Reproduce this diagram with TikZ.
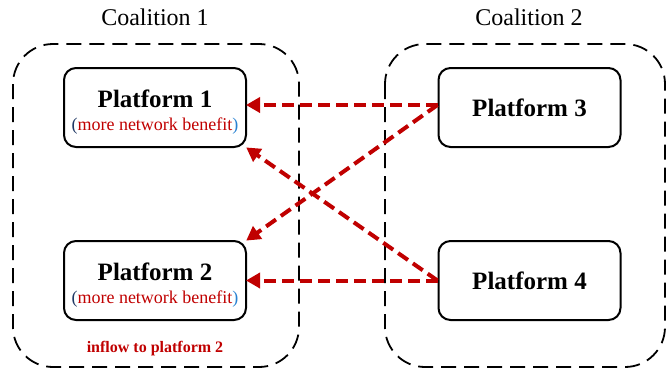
\documentclass[tikz,border=0pt]{standalone}
\usepackage{fontspec}
\setmainfont{Liberation Serif}
\usetikzlibrary{arrows.meta}
\definecolor{flowred}{RGB}{192,0,0}
\definecolor{parenblue}{RGB}{40,130,210}
\definecolor{parennavy}{RGB}{31,56,100}
\tikzset{
  coalition/.style={draw, line width=1.8pt, dash pattern=on 15pt off 8pt, rounded corners=40pt},
  plat/.style={draw, line width=2pt, rounded corners=12pt, minimum width=182pt, minimum height=79pt, inner sep=0pt,
    font=\fontsize{25}{28}\selectfont\bfseries},
  ptitle/.style={anchor=base, inner sep=0pt, font=\fontsize{25}{28}\selectfont\bfseries},
  psub/.style={anchor=base, inner sep=0pt, font=\fontsize{18}{20}\selectfont},
  ctitle/.style={anchor=base, inner sep=0pt, font=\fontsize{24}{26}\selectfont},
  flow/.style={draw=flowred, line width=4pt, dash pattern=on 12pt off 6pt,
    -{Triangle[length=14pt,width=15pt,fill=flowred]}, shorten >=-1pt},
}
\newcommand{\benefitnote}{{\color{parennavy}(}{\color{flowred}more network benefit}{\color{parenblue})}}
\begin{document}
\begin{tikzpicture}[x=1pt,y=-1pt]
  \useasboundingbox (0,0) rectangle (667,370);

  % coalition frames and their titles
  \draw[coalition] (13,44) rectangle (299,367);
  \draw[coalition] (385,44) rectangle (665,367);
  \node[ctitle] (c1) at (155,25) {Coalition 1};
  \node[ctitle] (c2) at (529,25) {Coalition 2};

  % platforms of coalition 1
  \node[plat] (p1) at (155,107.5) {};
  \node[ptitle] (p1t) at (155,107) {Platform 1};
  \node[psub] (p1s) at (155,130) {\benefitnote};
  \node[plat] (p2) at (155,280.5) {};
  \node[ptitle] (p2t) at (155,280) {Platform 2};
  \node[psub] (p2s) at (155,303) {\benefitnote};
  \node[anchor=base, inner sep=0pt, text=flowred, font=\fontsize{16}{18}\selectfont\bfseries] (inflow) at (155,352) {inflow to platform 2};

  % platforms of coalition 2
  \node[plat] (p3) at (529.5,107.5) {Platform 3};
  \node[plat] (p4) at (529.5,280.5) {Platform 4};

  % flows into coalition 1
  \draw[flow] ([yshift=2.5pt]p3.west) -- ([yshift=2.5pt]p1.east);
  \draw[flow] ([yshift=2.5pt]p3.west) -- (p2.north east);
  \draw[flow] (p4.west) -- (p1.south east);
  \draw[flow] (p4.west) -- (p2.east);
\end{tikzpicture}
\end{document}
